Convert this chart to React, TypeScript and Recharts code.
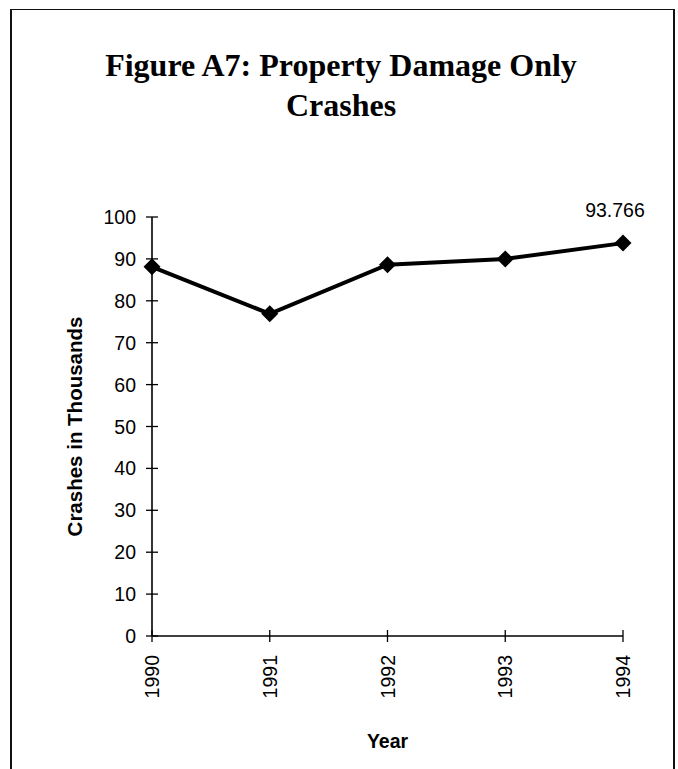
import React from "react";
import { LineChart, Line, XAxis, YAxis, Label } from "recharts";

const years = ["1990", "1991", "1992", "1993", "1994"];
const crashes = [88.1, 76.9, 88.6, 90.0, 93.766];
const yTicks = [0, 10, 20, 30, 40, 50, 60, 70, 80, 90, 100];
const labeledValue = "93.766";
const titleLines = ["Figure A7: Property Damage Only", "Crashes"];

const data = years.map((y, i) => ({ year: y, value: crashes[i] }));

const SANS = "'Liberation Sans', Arial, sans-serif";
const SERIF = "'Liberation Serif', 'Times New Roman', serif";

const Y_MARGIN = 16;
const X_MARGIN = 19;
const FS = 19.5;

const YTick = (props: any) => {
  const { x, y, payload } = props;
  const ax = x + Y_MARGIN;
  return (
    <g>
      <line x1={ax - 6} x2={ax + 6} y1={y} y2={y} stroke="#000" strokeWidth={1.3} />
      <text x={x} y={y} textAnchor="end" dominantBaseline="central" fontFamily={SANS} fontSize={FS} fill="#000">
        {payload.value}
      </text>
    </g>
  );
};

const XTick = (props: any) => {
  const { x, y, payload } = props;
  const ay = y - X_MARGIN;
  return (
    <g>
      <line x1={x} x2={x} y1={ay - 6} y2={ay + 6} stroke="#000" strokeWidth={1.3} />
      <text
        x={x}
        y={y}
        transform={`rotate(-90 ${x} ${y})`}
        textAnchor="end"
        dominantBaseline="central"
        fontFamily={SANS}
        fontSize={FS}
        fill="#000"
      >
        {payload.value}
      </text>
    </g>
  );
};

const Diamond = (props: any) => {
  const { cx, cy } = props;
  if (cx == null || cy == null) return null;
  const r = 8.5;
  return <polygon points={`${cx},${cy - r} ${cx + r},${cy} ${cx},${cy + r} ${cx - r},${cy}`} fill="#000" />;
};

const LastLabel = (props: any) => {
  const { x, y, index } = props;
  if (index !== years.length - 1) return null;
  return (
    <text x={x - 8} y={y - 33} textAnchor="middle" dominantBaseline="central" fontFamily={SANS} fontSize={FS} fill="#000">
      {labeledValue}
    </text>
  );
};

export default function App() {
  return (
    <div style={{ position: "absolute", left: 0, top: 0, width: 678, height: 769, background: "#fff", overflow: "hidden" }}>
      <div
        style={{
          position: "absolute",
          left: 10,
          top: 9,
          width: 665,
          height: 800,
          border: "2px solid #111",
          borderTopWidth: 1.5,
          boxSizing: "border-box",
        }}
      />
      <svg width={678} height={140} style={{ position: "absolute", left: 0, top: 0 }}>
        <text x={341} y={76} textAnchor="middle" fontFamily={SERIF} fontWeight="bold" fontSize={32} fill="#000">
          {titleLines[0]}
        </text>
        <text x={341} y={116} textAnchor="middle" fontFamily={SERIF} fontWeight="bold" fontSize={32} fill="#000">
          {titleLines[1]}
        </text>
      </svg>
      <div style={{ position: "absolute", left: 0, top: 0 }}>
        <LineChart width={678} height={769} data={data} margin={{ top: 217, right: 55, bottom: 23, left: 92 }}>
          <XAxis
            dataKey="year"
            height={110}
            axisLine={{ stroke: "#000", strokeWidth: 1.3 }}
            tickLine={false}
            tickSize={0}
            tickMargin={X_MARGIN}
            tick={<XTick />}
            interval={0}
          >
            <Label value="Year" position="insideBottom" offset={-2} fontFamily={SANS} fontSize={FS} fontWeight="bold" fill="#000" />
          </XAxis>
          <YAxis
            width={60}
            domain={[0, 100]}
            ticks={yTicks}
            interval={0}
            axisLine={{ stroke: "#000", strokeWidth: 1.6 }}
            tickLine={false}
            tickSize={0}
            tickMargin={Y_MARGIN}
            tick={<YTick />}
          >
            <Label
              value="Crashes in Thousands"
              angle={-90}
              position="insideLeft"
              offset={-17}
              style={{ textAnchor: "middle" }}
              fontFamily={SANS}
              fontSize={20.5}
              fontWeight="bold"
              fill="#000"
            />
          </YAxis>
          <Line
            dataKey="value"
            stroke="#000"
            strokeWidth={4}
            dot={<Diamond />}
            activeDot={false}
            label={<LastLabel />}
            isAnimationActive={false}
          />
        </LineChart>
      </div>
    </div>
  );
}
